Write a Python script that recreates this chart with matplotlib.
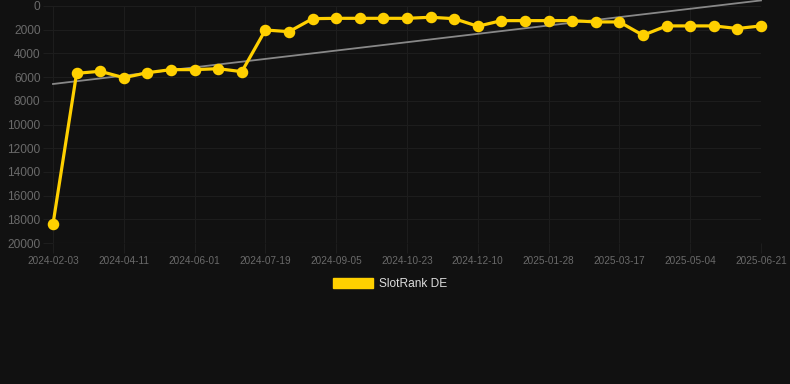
import numpy as np
import matplotlib
matplotlib.use('Agg')
import matplotlib.pyplot as plt
from matplotlib.patches import Patch

plt.rcParams['font.family'] = ['Liberation Sans', 'DejaVu Sans']

# data (rank, lower is better)
dates = ['2024-02-03', '2024-02-26', '2024-03-19', '2024-04-11', '2024-04-28',
         '2024-05-15', '2024-06-01', '2024-06-17', '2024-07-03', '2024-07-19',
         '2024-08-04', '2024-08-20', '2024-09-05', '2024-09-21', '2024-10-07',
         '2024-10-23', '2024-11-08', '2024-11-24', '2024-12-10', '2024-12-26',
         '2025-01-12', '2025-01-28', '2025-02-13', '2025-03-01', '2025-03-17',
         '2025-04-02', '2025-04-18', '2025-05-04', '2025-05-20', '2025-06-05',
         '2025-06-21']
rank = [18400, 5680, 5510, 6050, 5630, 5370, 5370, 5290, 5540, 2025,
        2166, 1069, 1040, 1040, 1040, 1040, 950, 1070, 1710, 1235,
        1235, 1235, 1235, 1345, 1345, 2470, 1680, 1680, 1680, 1900,
        1680]
y_ticks = [0, 2000, 4000, 6000, 8000, 10000, 12000, 14000, 16000, 18000, 20000]

bg = '#111111'
grid_col = '#1d1d1d'
yellow = '#FFD000'

fig = plt.figure(figsize=(7.9, 3.84), dpi=100, facecolor=bg)
ax = fig.add_axes([53/790, 1 - 243/384, (761 - 53)/790, (243 - 6)/384])
ax.set_facecolor(bg)

x = np.arange(len(rank))
# linear trend through the series
k, b = np.polyfit(x, rank, 1)
ax.plot(x, k*x + b, color='#888888', lw=1.3, zorder=2, clip_on=False)
ax.plot(x, rank, color=yellow, lw=2.3, marker='o', markersize=7.3,
        zorder=3, clip_on=False)

ax.set_xlim(0, len(rank) - 1)
ax.set_ylim(20000, 0)
ax.set_yticks(y_ticks)
ax.set_yticklabels([str(v) for v in y_ticks], fontsize=8.6, color='#6a6a6a')
ax.set_xticks(x[::3])
ax.set_xticklabels(dates[::3], fontsize=7.2, color='#6a6a6a')
ax.tick_params(axis='both', length=7, color=grid_col, width=0.8, pad=2)
ax.grid(True, color=grid_col, lw=0.8)
ax.axhline(20000, color='#2a2a2a', lw=0.8, zorder=1)
ax.set_axisbelow(True)
for s in ax.spines.values():
    s.set_visible(False)

fig.legend(handles=[Patch(facecolor=yellow, edgecolor=yellow)],
           labels=['SlotRank DE'], loc='center', frameon=False,
           bbox_to_anchor=(390/790, 1 - 284/384), fontsize=8.6,
           labelcolor='#dddddd', handlelength=3.3, handleheight=1.0,
           handletextpad=0.5, borderaxespad=0, borderpad=0)

fig.savefig('out.png', dpi=100, facecolor=bg)
